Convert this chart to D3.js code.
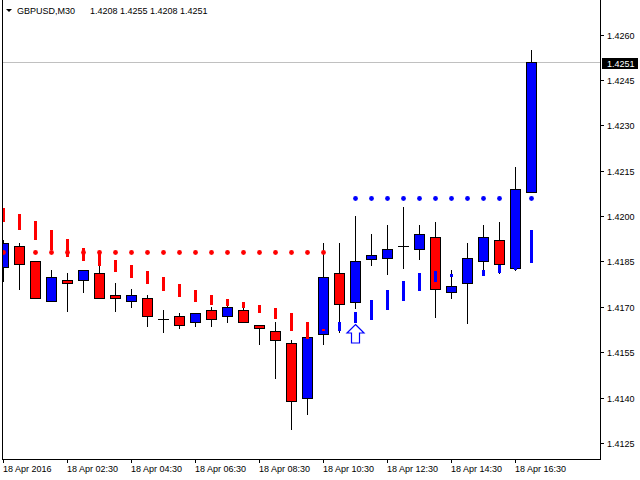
<!DOCTYPE html>
<html>
<head>
<meta charset="utf-8">
<script src="https://cdn.jsdelivr.net/npm/d3@7"></script>
<style>
  body { margin: 0; background: #fff; }
  svg { display: block; }
</style>
</head>
<body>
<div id="chart"></div>
<script>
// ---- data (GBPUSD M30, 34 bars) ----
const symbolName = "GBPUSD,M30";
const lastOHLC = "1.4208 1.4255 1.4208 1.4251";

const timeLabels = ["18 Apr 2016", "18 Apr 02:30", "18 Apr 04:30", "18 Apr 06:30", "18 Apr 08:30",
                    "18 Apr 10:30", "18 Apr 12:30", "18 Apr 14:30", "18 Apr 16:30"];
const labelBars = [0, 4, 8, 12, 16, 20, 24, 28, 32];

const opens = [1.41832, 1.41901, 1.41852, 1.41719, 1.41789, 1.41789, 1.41812, 1.41739, 1.41719, 1.41729,
               1.41660, 1.41670, 1.41650, 1.41690, 1.41670, 1.41690, 1.41640, 1.41620, 1.41581, 1.41399,
               1.41610, 1.41812, 1.41716, 1.41858, 1.41861, 1.41901, 1.41891, 1.41931, 1.41749, 1.41779,
               1.41852, 1.41921, 1.41828, 1.42080];
const highs = [1.41921, 1.41911, 1.41852, 1.41822, 1.41812, 1.41822, 1.41835, 1.41779, 1.41759, 1.41739,
               1.41690, 1.41680, 1.41680, 1.41699, 1.41706, 1.41699, 1.41640, 1.41650, 1.41590, 1.41600,
               1.41911, 1.41911, 1.42000, 1.41941, 1.41970, 1.42030, 1.41970, 1.41980, 1.41822, 1.41911,
               1.41970, 1.41980, 1.42162, 1.42550];
const lows = [1.41785, 1.41759, 1.41729, 1.41719, 1.41686, 1.41749, 1.41729, 1.41686, 1.41699, 1.41637,
              1.41617, 1.41630, 1.41637, 1.41637, 1.41650, 1.41650, 1.41577, 1.41465, 1.41296, 1.41346,
              1.41577, 1.41617, 1.41696, 1.41838, 1.41809, 1.41828, 1.41858, 1.41667, 1.41729, 1.41647,
              1.41822, 1.41812, 1.41822, 1.42080];
const closes = [1.41911, 1.41842, 1.41729, 1.41799, 1.41779, 1.41822, 1.41729, 1.41729, 1.41739, 1.41670,
                1.41660, 1.41640, 1.41680, 1.41660, 1.41699, 1.41650, 1.41630, 1.41590, 1.41389, 1.41600,
                1.41799, 1.41709, 1.41852, 1.41871, 1.41891, 1.41901, 1.41941, 1.41759, 1.41769, 1.41861,
                1.41931, 1.41842, 1.42089, 1.42510];

// trailing stop histogram (sell side above price, buy side below)
const sellStopHi = [1.42027, 1.42007, 1.41984, 1.41954, 1.41924, 1.41894, 1.41878, 1.41855, 1.41838, 1.41818,
                    1.41799, 1.41775, 1.41756, 1.41739, 1.41726, 1.41716, 1.41706, 1.41696, 1.41680, 1.41650,
                    1.41627, null, null, null, null, null, null, null, null, null,
                    null, null, null, null];
const sellStopLo = [1.41980, 1.41954, 1.41921, 1.41888, 1.41865, 1.41852, 1.41835, 1.41815, 1.41795, 1.41775,
                    1.41752, 1.41733, 1.41716, 1.41706, 1.41703, 1.41696, 1.41680, 1.41660, 1.41620, 1.41594,
                    1.41620, null, null, null, null, null, null, null, null, null,
                    null, null, null, null];
const buyStopHi = [null, null, null, null, null, null, null, null, null, null,
                   null, null, null, null, null, null, null, null, null, null,
                   null, 1.41650, 1.41683, 1.41723, 1.41756, 1.41785, 1.41812, 1.41818, 1.41809, null,
                   1.41822, 1.41838, 1.41832, 1.41954];
const buyStopLo = [null, null, null, null, null, null, null, null, null, null,
                   null, null, null, null, null, null, null, null, null, null,
                   null, 1.41620, 1.41647, 1.41657, 1.41690, 1.41719, 1.41752, 1.41782, 1.41799, null,
                   1.41802, 1.41812, 1.41822, 1.41845];

// level dots
const redDots = [1.41881, 1.41881, 1.41881, 1.41881, 1.41881, 1.41881, 1.41881, 1.41881, 1.41881, 1.41881,
                 1.41881, 1.41881, 1.41881, 1.41881, 1.41881, 1.41881, 1.41881, 1.41881, 1.41881, 1.41881,
                 1.41881, null, null, null, null, null, null, null, null, null,
                 null, null, null, null];
const blueDots = [null, null, null, null, null, null, null, null, null, null,
                  null, null, null, null, null, null, null, null, null, null,
                  null, null, 1.42060, 1.42060, 1.42060, 1.42060, 1.42060, 1.42060, 1.42060, 1.42060,
                  1.42060, 1.42060, 1.42060, 1.42060];

const arrowBars = [22];
const arrowPrices = [1.41643];

const priceTicks = [1.4125, 1.4140, 1.4155, 1.4170, 1.4185, 1.4200, 1.4215, 1.4230, 1.4245, 1.4260];
const bidPrice = 1.4251;

// ---- layout ----
const width = 640, height = 480;
const plotLeft = 2, plotRight = 600, plotTop = 0, plotBottom = 459;
const font = "'Liberation Sans', Arial, sans-serif";

const svg = d3.select("#chart").append("svg")
    .attr("width", width)
    .attr("height", height)
    .style("background", "#fff");

const x = d3.scaleLinear().domain([0, 33]).range([3, 531]);
const y = d3.scaleLinear().domain([1.4125, 1.4260]).range([443, 34.5]);
const py = v => Math.round(y(v));

svg.append("defs").append("clipPath").attr("id", "plot-clip")
    .append("rect")
    .attr("x", plotLeft + 1).attr("y", plotTop)
    .attr("width", plotRight - plotLeft - 1).attr("height", plotBottom - plotTop);

const plot = svg.append("g")
    .attr("clip-path", "url(#plot-clip)")
    .attr("shape-rendering", "crispEdges");

// bid line
plot.append("line")
    .attr("x1", plotLeft).attr("x2", plotRight)
    .attr("y1", py(bidPrice) + 0.5).attr("y2", py(bidPrice) + 0.5)
    .attr("stroke", "#c0c0c0");

// candles
const bars = d3.range(opens.length).map(i => ({
    i, o: opens[i], h: highs[i], l: lows[i], c: closes[i]
}));

const candles = plot.append("g").selectAll("g")
    .data(bars)
    .join("g");

candles.append("line")
    .attr("x1", d => x(d.i) + 0.5).attr("x2", d => x(d.i) + 0.5)
    .attr("y1", d => py(d.h)).attr("y2", d => py(d.l) + 1)
    .attr("stroke", "#000");

candles.filter(d => d.o !== d.c).append("rect")
    .attr("x", d => x(d.i) - 4.5)
    .attr("y", d => py(Math.max(d.o, d.c)) + 0.5)
    .attr("width", 10)
    .attr("height", d => Math.max(1, py(Math.min(d.o, d.c)) - py(Math.max(d.o, d.c))))
    .attr("fill", d => d.c > d.o ? "#0000ff" : "#ff0000")
    .attr("stroke", "#000");

candles.filter(d => d.o === d.c).append("line")
    .attr("x1", d => x(d.i) - 5).attr("x2", d => x(d.i) + 6)
    .attr("y1", d => py(d.o) + 0.5).attr("y2", d => py(d.o) + 0.5)
    .attr("stroke", "#000");

// stop histogram segments
function drawStops(hi, lo, color) {
    const segs = d3.range(hi.length).filter(i => hi[i] != null)
        .map(i => ({ i, hi: hi[i], lo: lo[i] }));
    plot.append("g").selectAll("rect")
        .data(segs)
        .join("rect")
        .attr("x", d => x(d.i) - 1)
        .attr("y", d => py(d.hi))
        .attr("width", 3)
        .attr("height", d => Math.max(2, py(d.lo) - py(d.hi)))
        .attr("fill", color);
}
drawStops(sellStopHi, sellStopLo, "#ff0000");
drawStops(buyStopHi, buyStopLo, "#0000ff");

// level dots
function drawDots(vals, color) {
    const pts = d3.range(vals.length).filter(i => vals[i] != null)
        .map(i => ({ i, v: vals[i] }));
    svg.append("g").attr("clip-path", "url(#plot-clip)")
        .selectAll("circle")
        .data(pts)
        .join("circle")
        .attr("cx", d => x(d.i) + 0.5)
        .attr("cy", d => py(d.v) + 0.5)
        .attr("r", 2.4)
        .attr("fill", color);
}
drawDots(redDots, "#ff0000");
drawDots(blueDots, "#0000ff");

// buy arrow
svg.append("g").selectAll("path")
    .data(arrowBars.map((b, k) => ({ i: b, v: arrowPrices[k] })))
    .join("path")
    .attr("d", d => {
        const cx = x(d.i) + 0.5, t = py(d.v) + 0.5;
        return `M${cx},${t} L${cx + 8.5},${t + 8.5} L${cx + 4},${t + 8.5} L${cx + 4},${t + 18.5}
                L${cx - 4},${t + 18.5} L${cx - 4},${t + 8.5} L${cx - 8.5},${t + 8.5} Z`;
    })
    .attr("fill", "#fff")
    .attr("stroke", "#0000ff")
    .attr("stroke-width", 1.2);

// frame
const frame = svg.append("g").attr("shape-rendering", "crispEdges").attr("stroke", "#000");
frame.append("line").attr("x1", plotLeft + 0.5).attr("x2", plotLeft + 0.5)
    .attr("y1", plotTop).attr("y2", plotBottom + 0.5);
frame.append("line").attr("x1", plotRight + 0.5).attr("x2", plotRight + 0.5)
    .attr("y1", plotTop).attr("y2", plotBottom + 1);
frame.append("line").attr("x1", plotLeft).attr("x2", plotRight + 1)
    .attr("y1", plotBottom + 0.5).attr("y2", plotBottom + 0.5);

// price axis
const yAxis = svg.append("g");
yAxis.selectAll("line")
    .data(priceTicks)
    .join("line")
    .attr("shape-rendering", "crispEdges")
    .attr("x1", plotRight + 1).attr("x2", plotRight + 4)
    .attr("y1", d => py(d) + 0.5).attr("y2", d => py(d) + 0.5)
    .attr("stroke", "#000");
yAxis.selectAll("text")
    .data(priceTicks)
    .join("text")
    .attr("x", 607)
    .attr("y", d => py(d) + 4)
    .attr("font-family", font)
    .attr("font-size", "9px")
    .attr("fill", "#000")
    .text(d => d.toFixed(4));

// bid price label
const bidY = py(bidPrice);
svg.append("rect")
    .attr("shape-rendering", "crispEdges")
    .attr("x", 602).attr("y", bidY - 4)
    .attr("width", 36).attr("height", 11)
    .attr("fill", "#000");
svg.append("text")
    .attr("x", 607).attr("y", bidY + 4.5)
    .attr("font-family", font).attr("font-size", "9px")
    .attr("fill", "#fff")
    .text(bidPrice.toFixed(4));

// time axis
const xAxis = svg.append("g");
xAxis.selectAll("line")
    .data(labelBars)
    .join("line")
    .attr("shape-rendering", "crispEdges")
    .attr("x1", d => x(d) + 0.5).attr("x2", d => x(d) + 0.5)
    .attr("y1", plotBottom).attr("y2", plotBottom + 4)
    .attr("stroke", "#000");
xAxis.selectAll("text")
    .data(labelBars)
    .join("text")
    .attr("x", d => x(d))
    .attr("y", 472)
    .attr("font-family", font)
    .attr("font-size", "9px")
    .attr("fill", "#000")
    .text((d, k) => timeLabels[k]);

// header
svg.append("path")
    .attr("d", "M6,9 L12,9 L9,12 Z")
    .attr("fill", "#000");
svg.append("text")
    .attr("x", 17).attr("y", 14)
    .attr("font-family", font).attr("font-size", "9px")
    .attr("fill", "#000")
    .text(symbolName);
svg.append("text")
    .attr("x", 90).attr("y", 14)
    .attr("font-family", font).attr("font-size", "9px")
    .attr("fill", "#000")
    .text(lastOHLC);
</script>
</body>
</html>
